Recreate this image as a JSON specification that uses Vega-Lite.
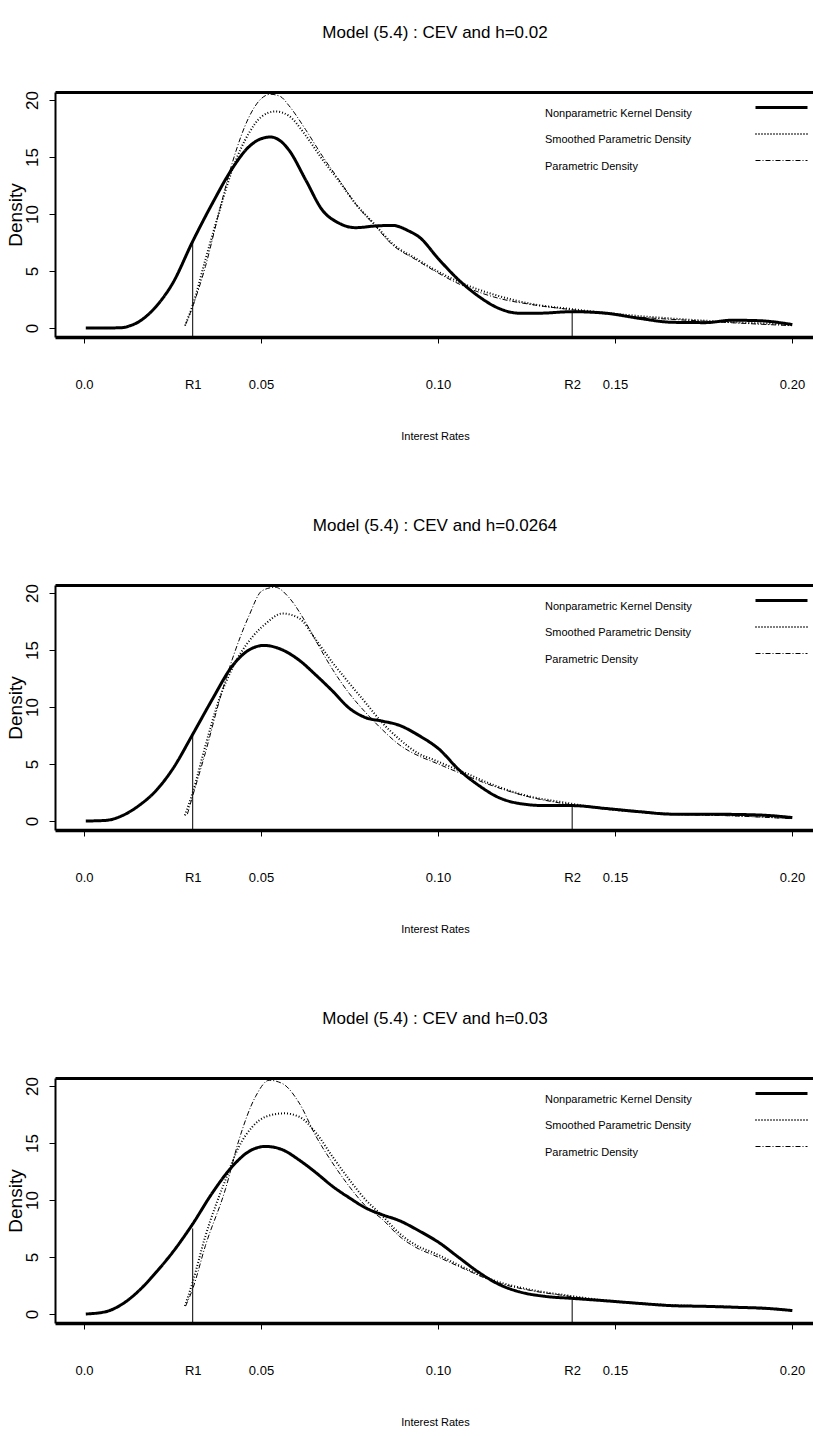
{
  "$schema": "https://vega.github.io/schema/vega-lite/v6.json",
  "background": "white",
  "padding": {"left": 6, "top": 23, "right": 0, "bottom": 0},
  "spacing": 75,
  "config": {
    "view": {"stroke": null},
    "font": "Liberation Sans",
    "axis": {"grid": false, "domainColor": "black", "tickColor": "black", "labelColor": "black", "titleColor": "black", "titleFontWeight": "normal"},
    "legend": {"title": null, "orient": "none", "legendX": 718.5, "legendY": 7.5, "padding": 0, "symbolType": "M-4,0H4", "symbolSize": 169, "symbolStrokeColor": "black", "rowPadding": 8, "labelOffset": -244.5, "labelAlign": "left", "labelBaseline": "top", "labelFont": "Liberation Sans", "labelFontSize": 11, "labelColor": "black", "labelLimit": 400}
  },
  "datasets": {
    "curves": [
      {"p":1,"s":"Nonparametric Kernel Density","x":0.0005,"y":0},{"p":1,"s":"Nonparametric Kernel Density","x":0.006,"y":0},{"p":1,"s":"Nonparametric Kernel Density","x":0.0108,"y":0.03},{"p":1,"s":"Nonparametric Kernel Density","x":0.013,"y":0.2},{"p":1,"s":"Nonparametric Kernel Density","x":0.0155,"y":0.55},{"p":1,"s":"Nonparametric Kernel Density","x":0.0203,"y":1.87},{"p":1,"s":"Nonparametric Kernel Density","x":0.025,"y":3.9},{"p":1,"s":"Nonparametric Kernel Density","x":0.0307,"y":7.6},{"p":1,"s":"Nonparametric Kernel Density","x":0.0362,"y":10.9},{"p":1,"s":"Nonparametric Kernel Density","x":0.0419,"y":14.0},{"p":1,"s":"Nonparametric Kernel Density","x":0.0466,"y":15.9},{"p":1,"s":"Nonparametric Kernel Density","x":0.05,"y":16.6},{"p":1,"s":"Nonparametric Kernel Density","x":0.0527,"y":16.75},{"p":1,"s":"Nonparametric Kernel Density","x":0.0555,"y":16.4},{"p":1,"s":"Nonparametric Kernel Density","x":0.0579,"y":15.6},{"p":1,"s":"Nonparametric Kernel Density","x":0.0626,"y":13.0},{"p":1,"s":"Nonparametric Kernel Density","x":0.0673,"y":10.35},{"p":1,"s":"Nonparametric Kernel Density","x":0.072,"y":9.2},{"p":1,"s":"Nonparametric Kernel Density","x":0.0767,"y":8.8},{"p":1,"s":"Nonparametric Kernel Density","x":0.0824,"y":8.95},{"p":1,"s":"Nonparametric Kernel Density","x":0.0871,"y":9.0},{"p":1,"s":"Nonparametric Kernel Density","x":0.0918,"y":8.5},{"p":1,"s":"Nonparametric Kernel Density","x":0.0946,"y":8.0},{"p":1,"s":"Nonparametric Kernel Density","x":0.1003,"y":6.0},{"p":1,"s":"Nonparametric Kernel Density","x":0.1059,"y":4.2},{"p":1,"s":"Nonparametric Kernel Density","x":0.1116,"y":2.75},{"p":1,"s":"Nonparametric Kernel Density","x":0.1172,"y":1.72},{"p":1,"s":"Nonparametric Kernel Density","x":0.1229,"y":1.3},{"p":1,"s":"Nonparametric Kernel Density","x":0.1285,"y":1.3},{"p":1,"s":"Nonparametric Kernel Density","x":0.1379,"y":1.43},{"p":1,"s":"Nonparametric Kernel Density","x":0.1473,"y":1.3},{"p":1,"s":"Nonparametric Kernel Density","x":0.1568,"y":0.85},{"p":1,"s":"Nonparametric Kernel Density","x":0.1662,"y":0.5},{"p":1,"s":"Nonparametric Kernel Density","x":0.1756,"y":0.47},{"p":1,"s":"Nonparametric Kernel Density","x":0.1831,"y":0.68},{"p":1,"s":"Nonparametric Kernel Density","x":0.1907,"y":0.64},{"p":1,"s":"Nonparametric Kernel Density","x":0.2001,"y":0.3},
      {"p":1,"s":"Smoothed Parametric Density","x":0.0285,"y":0.2},{"p":1,"s":"Smoothed Parametric Density","x":0.0307,"y":2.0},{"p":1,"s":"Smoothed Parametric Density","x":0.0343,"y":6.0},{"p":1,"s":"Smoothed Parametric Density","x":0.0381,"y":10.1},{"p":1,"s":"Smoothed Parametric Density","x":0.0419,"y":13.9},{"p":1,"s":"Smoothed Parametric Density","x":0.0466,"y":17.1},{"p":1,"s":"Smoothed Parametric Density","x":0.05,"y":18.5},{"p":1,"s":"Smoothed Parametric Density","x":0.0541,"y":19.0},{"p":1,"s":"Smoothed Parametric Density","x":0.0579,"y":18.6},{"p":1,"s":"Smoothed Parametric Density","x":0.0626,"y":16.9},{"p":1,"s":"Smoothed Parametric Density","x":0.0673,"y":14.8},{"p":1,"s":"Smoothed Parametric Density","x":0.072,"y":12.9},{"p":1,"s":"Smoothed Parametric Density","x":0.0767,"y":10.9},{"p":1,"s":"Smoothed Parametric Density","x":0.0824,"y":9.0},{"p":1,"s":"Smoothed Parametric Density","x":0.0871,"y":7.4},{"p":1,"s":"Smoothed Parametric Density","x":0.0937,"y":6.1},{"p":1,"s":"Smoothed Parametric Density","x":0.0985,"y":5.2},{"p":1,"s":"Smoothed Parametric Density","x":0.1078,"y":3.8},{"p":1,"s":"Smoothed Parametric Density","x":0.1172,"y":2.8},{"p":1,"s":"Smoothed Parametric Density","x":0.1266,"y":2.1},{"p":1,"s":"Smoothed Parametric Density","x":0.1379,"y":1.65},{"p":1,"s":"Smoothed Parametric Density","x":0.155,"y":1.1},{"p":1,"s":"Smoothed Parametric Density","x":0.175,"y":0.65},{"p":1,"s":"Smoothed Parametric Density","x":0.2,"y":0.3},
      {"p":1,"s":"Parametric Density","x":0.0287,"y":0.3},{"p":1,"s":"Parametric Density","x":0.0307,"y":1.9},{"p":1,"s":"Parametric Density","x":0.0343,"y":5.4},{"p":1,"s":"Parametric Density","x":0.0381,"y":10.1},{"p":1,"s":"Parametric Density","x":0.0419,"y":14.5},{"p":1,"s":"Parametric Density","x":0.0466,"y":18.5},{"p":1,"s":"Parametric Density","x":0.05,"y":20.1},{"p":1,"s":"Parametric Density","x":0.0527,"y":20.5},{"p":1,"s":"Parametric Density","x":0.0555,"y":20.3},{"p":1,"s":"Parametric Density","x":0.0579,"y":19.5},{"p":1,"s":"Parametric Density","x":0.0626,"y":17.4},{"p":1,"s":"Parametric Density","x":0.0673,"y":15.1},{"p":1,"s":"Parametric Density","x":0.072,"y":13.0},{"p":1,"s":"Parametric Density","x":0.0767,"y":10.9},{"p":1,"s":"Parametric Density","x":0.0824,"y":8.9},{"p":1,"s":"Parametric Density","x":0.0871,"y":7.3},{"p":1,"s":"Parametric Density","x":0.0937,"y":6.0},{"p":1,"s":"Parametric Density","x":0.0985,"y":5.1},{"p":1,"s":"Parametric Density","x":0.1031,"y":4.3},{"p":1,"s":"Parametric Density","x":0.1078,"y":3.6},{"p":1,"s":"Parametric Density","x":0.1172,"y":2.6},{"p":1,"s":"Parametric Density","x":0.1266,"y":2.05},{"p":1,"s":"Parametric Density","x":0.1379,"y":1.6},{"p":1,"s":"Parametric Density","x":0.155,"y":1.0},{"p":1,"s":"Parametric Density","x":0.175,"y":0.6},{"p":1,"s":"Parametric Density","x":0.2,"y":0.2},
      {"p":2,"s":"Nonparametric Kernel Density","x":0.0005,"y":0},{"p":2,"s":"Nonparametric Kernel Density","x":0.0061,"y":0.05},{"p":2,"s":"Nonparametric Kernel Density","x":0.0108,"y":0.47},{"p":2,"s":"Nonparametric Kernel Density","x":0.0155,"y":1.35},{"p":2,"s":"Nonparametric Kernel Density","x":0.0203,"y":2.65},{"p":2,"s":"Nonparametric Kernel Density","x":0.025,"y":4.54},{"p":2,"s":"Nonparametric Kernel Density","x":0.0307,"y":7.6},{"p":2,"s":"Nonparametric Kernel Density","x":0.0362,"y":10.65},{"p":2,"s":"Nonparametric Kernel Density","x":0.0419,"y":13.6},{"p":2,"s":"Nonparametric Kernel Density","x":0.0466,"y":15.0},{"p":2,"s":"Nonparametric Kernel Density","x":0.0509,"y":15.4},{"p":2,"s":"Nonparametric Kernel Density","x":0.0561,"y":15.0},{"p":2,"s":"Nonparametric Kernel Density","x":0.0608,"y":14.1},{"p":2,"s":"Nonparametric Kernel Density","x":0.0655,"y":12.8},{"p":2,"s":"Nonparametric Kernel Density","x":0.0702,"y":11.4},{"p":2,"s":"Nonparametric Kernel Density","x":0.0749,"y":9.9},{"p":2,"s":"Nonparametric Kernel Density","x":0.0796,"y":9.06},{"p":2,"s":"Nonparametric Kernel Density","x":0.0843,"y":8.76},{"p":2,"s":"Nonparametric Kernel Density","x":0.089,"y":8.4},{"p":2,"s":"Nonparametric Kernel Density","x":0.0946,"y":7.5},{"p":2,"s":"Nonparametric Kernel Density","x":0.1003,"y":6.3},{"p":2,"s":"Nonparametric Kernel Density","x":0.1059,"y":4.5},{"p":2,"s":"Nonparametric Kernel Density","x":0.1116,"y":3.1},{"p":2,"s":"Nonparametric Kernel Density","x":0.1172,"y":2.05},{"p":2,"s":"Nonparametric Kernel Density","x":0.1229,"y":1.54},{"p":2,"s":"Nonparametric Kernel Density","x":0.1304,"y":1.35},{"p":2,"s":"Nonparametric Kernel Density","x":0.1379,"y":1.35},{"p":2,"s":"Nonparametric Kernel Density","x":0.1473,"y":1.1},{"p":2,"s":"Nonparametric Kernel Density","x":0.1568,"y":0.82},{"p":2,"s":"Nonparametric Kernel Density","x":0.1662,"y":0.6},{"p":2,"s":"Nonparametric Kernel Density","x":0.1756,"y":0.6},{"p":2,"s":"Nonparametric Kernel Density","x":0.1831,"y":0.58},{"p":2,"s":"Nonparametric Kernel Density","x":0.1925,"y":0.5},{"p":2,"s":"Nonparametric Kernel Density","x":0.2001,"y":0.3},
      {"p":2,"s":"Smoothed Parametric Density","x":0.0285,"y":0.5},{"p":2,"s":"Smoothed Parametric Density","x":0.0307,"y":2.5},{"p":2,"s":"Smoothed Parametric Density","x":0.0343,"y":6.6},{"p":2,"s":"Smoothed Parametric Density","x":0.0381,"y":10.6},{"p":2,"s":"Smoothed Parametric Density","x":0.0419,"y":13.4},{"p":2,"s":"Smoothed Parametric Density","x":0.0477,"y":16.2},{"p":2,"s":"Smoothed Parametric Density","x":0.0513,"y":17.3},{"p":2,"s":"Smoothed Parametric Density","x":0.056,"y":18.2},{"p":2,"s":"Smoothed Parametric Density","x":0.0607,"y":17.8},{"p":2,"s":"Smoothed Parametric Density","x":0.0655,"y":15.9},{"p":2,"s":"Smoothed Parametric Density","x":0.0702,"y":13.9},{"p":2,"s":"Smoothed Parametric Density","x":0.0749,"y":12.1},{"p":2,"s":"Smoothed Parametric Density","x":0.0796,"y":10.35},{"p":2,"s":"Smoothed Parametric Density","x":0.0843,"y":8.6},{"p":2,"s":"Smoothed Parametric Density","x":0.089,"y":7.2},{"p":2,"s":"Smoothed Parametric Density","x":0.0946,"y":5.9},{"p":2,"s":"Smoothed Parametric Density","x":0.0985,"y":5.4},{"p":2,"s":"Smoothed Parametric Density","x":0.1078,"y":4.2},{"p":2,"s":"Smoothed Parametric Density","x":0.1153,"y":3.2},{"p":2,"s":"Smoothed Parametric Density","x":0.1266,"y":2.1},{"p":2,"s":"Smoothed Parametric Density","x":0.1341,"y":1.7},{"p":2,"s":"Smoothed Parametric Density","x":0.1454,"y":1.15},{"p":2,"s":"Smoothed Parametric Density","x":0.1643,"y":0.65},{"p":2,"s":"Smoothed Parametric Density","x":0.1831,"y":0.5},{"p":2,"s":"Smoothed Parametric Density","x":0.2,"y":0.25},
      {"p":2,"s":"Parametric Density","x":0.0292,"y":0.6},{"p":2,"s":"Parametric Density","x":0.0307,"y":2.2},{"p":2,"s":"Parametric Density","x":0.0343,"y":6.0},{"p":2,"s":"Parametric Density","x":0.0381,"y":10.4},{"p":2,"s":"Parametric Density","x":0.0419,"y":14.2},{"p":2,"s":"Parametric Density","x":0.0466,"y":18.0},{"p":2,"s":"Parametric Density","x":0.0503,"y":20.2},{"p":2,"s":"Parametric Density","x":0.054,"y":20.5},{"p":2,"s":"Parametric Density","x":0.0579,"y":19.6},{"p":2,"s":"Parametric Density","x":0.0617,"y":17.9},{"p":2,"s":"Parametric Density","x":0.0655,"y":15.8},{"p":2,"s":"Parametric Density","x":0.0702,"y":13.3},{"p":2,"s":"Parametric Density","x":0.0749,"y":11.2},{"p":2,"s":"Parametric Density","x":0.0796,"y":9.5},{"p":2,"s":"Parametric Density","x":0.0843,"y":8.0},{"p":2,"s":"Parametric Density","x":0.089,"y":6.7},{"p":2,"s":"Parametric Density","x":0.0946,"y":5.7},{"p":2,"s":"Parametric Density","x":0.0985,"y":5.2},{"p":2,"s":"Parametric Density","x":0.1078,"y":4.0},{"p":2,"s":"Parametric Density","x":0.1153,"y":3.1},{"p":2,"s":"Parametric Density","x":0.1266,"y":2.05},{"p":2,"s":"Parametric Density","x":0.1341,"y":1.6},{"p":2,"s":"Parametric Density","x":0.1454,"y":1.1},{"p":2,"s":"Parametric Density","x":0.1643,"y":0.6},{"p":2,"s":"Parametric Density","x":0.1831,"y":0.45},{"p":2,"s":"Parametric Density","x":0.2,"y":0.2},
      {"p":3,"s":"Nonparametric Kernel Density","x":0.0005,"y":0},{"p":3,"s":"Nonparametric Kernel Density","x":0.0061,"y":0.2},{"p":3,"s":"Nonparametric Kernel Density","x":0.0108,"y":0.87},{"p":3,"s":"Nonparametric Kernel Density","x":0.0155,"y":2.04},{"p":3,"s":"Nonparametric Kernel Density","x":0.0203,"y":3.64},{"p":3,"s":"Nonparametric Kernel Density","x":0.025,"y":5.4},{"p":3,"s":"Nonparametric Kernel Density","x":0.0307,"y":7.9},{"p":3,"s":"Nonparametric Kernel Density","x":0.0362,"y":10.6},{"p":3,"s":"Nonparametric Kernel Density","x":0.0419,"y":12.95},{"p":3,"s":"Nonparametric Kernel Density","x":0.0466,"y":14.26},{"p":3,"s":"Nonparametric Kernel Density","x":0.0513,"y":14.7},{"p":3,"s":"Nonparametric Kernel Density","x":0.0561,"y":14.4},{"p":3,"s":"Nonparametric Kernel Density","x":0.0608,"y":13.5},{"p":3,"s":"Nonparametric Kernel Density","x":0.0655,"y":12.4},{"p":3,"s":"Nonparametric Kernel Density","x":0.0702,"y":11.2},{"p":3,"s":"Nonparametric Kernel Density","x":0.0749,"y":10.2},{"p":3,"s":"Nonparametric Kernel Density","x":0.0796,"y":9.3},{"p":3,"s":"Nonparametric Kernel Density","x":0.0843,"y":8.7},{"p":3,"s":"Nonparametric Kernel Density","x":0.089,"y":8.2},{"p":3,"s":"Nonparametric Kernel Density","x":0.0946,"y":7.3},{"p":3,"s":"Nonparametric Kernel Density","x":0.1003,"y":6.26},{"p":3,"s":"Nonparametric Kernel Density","x":0.1059,"y":4.95},{"p":3,"s":"Nonparametric Kernel Density","x":0.1116,"y":3.64},{"p":3,"s":"Nonparametric Kernel Density","x":0.1172,"y":2.6},{"p":3,"s":"Nonparametric Kernel Density","x":0.1229,"y":1.95},{"p":3,"s":"Nonparametric Kernel Density","x":0.1304,"y":1.54},{"p":3,"s":"Nonparametric Kernel Density","x":0.1379,"y":1.37},{"p":3,"s":"Nonparametric Kernel Density","x":0.1473,"y":1.16},{"p":3,"s":"Nonparametric Kernel Density","x":0.1568,"y":0.93},{"p":3,"s":"Nonparametric Kernel Density","x":0.1662,"y":0.73},{"p":3,"s":"Nonparametric Kernel Density","x":0.1756,"y":0.67},{"p":3,"s":"Nonparametric Kernel Density","x":0.185,"y":0.58},{"p":3,"s":"Nonparametric Kernel Density","x":0.1925,"y":0.5},{"p":3,"s":"Nonparametric Kernel Density","x":0.2001,"y":0.3},
      {"p":3,"s":"Smoothed Parametric Density","x":0.0285,"y":0.7},{"p":3,"s":"Smoothed Parametric Density","x":0.0307,"y":2.8},{"p":3,"s":"Smoothed Parametric Density","x":0.0343,"y":6.84},{"p":3,"s":"Smoothed Parametric Density","x":0.04,"y":11.8},{"p":3,"s":"Smoothed Parametric Density","x":0.0438,"y":14.7},{"p":3,"s":"Smoothed Parametric Density","x":0.0475,"y":16.4},{"p":3,"s":"Smoothed Parametric Density","x":0.0513,"y":17.3},{"p":3,"s":"Smoothed Parametric Density","x":0.0565,"y":17.6},{"p":3,"s":"Smoothed Parametric Density","x":0.0608,"y":17.3},{"p":3,"s":"Smoothed Parametric Density","x":0.0655,"y":15.9},{"p":3,"s":"Smoothed Parametric Density","x":0.0702,"y":13.8},{"p":3,"s":"Smoothed Parametric Density","x":0.0749,"y":11.8},{"p":3,"s":"Smoothed Parametric Density","x":0.0796,"y":10.0},{"p":3,"s":"Smoothed Parametric Density","x":0.0843,"y":8.6},{"p":3,"s":"Smoothed Parametric Density","x":0.089,"y":7.1},{"p":3,"s":"Smoothed Parametric Density","x":0.0946,"y":5.9},{"p":3,"s":"Smoothed Parametric Density","x":0.0985,"y":5.4},{"p":3,"s":"Smoothed Parametric Density","x":0.1078,"y":4.0},{"p":3,"s":"Smoothed Parametric Density","x":0.1153,"y":3.0},{"p":3,"s":"Smoothed Parametric Density","x":0.1266,"y":2.1},{"p":3,"s":"Smoothed Parametric Density","x":0.136,"y":1.65},{"p":3,"s":"Smoothed Parametric Density","x":0.1454,"y":1.25},{"p":3,"s":"Smoothed Parametric Density","x":0.1643,"y":0.8},{"p":3,"s":"Smoothed Parametric Density","x":0.185,"y":0.6},{"p":3,"s":"Smoothed Parametric Density","x":0.2,"y":0.32},
      {"p":3,"s":"Parametric Density","x":0.0287,"y":0.7},{"p":3,"s":"Parametric Density","x":0.0307,"y":2.2},{"p":3,"s":"Parametric Density","x":0.0343,"y":6.0},{"p":3,"s":"Parametric Density","x":0.04,"y":11.0},{"p":3,"s":"Parametric Density","x":0.0438,"y":15.3},{"p":3,"s":"Parametric Density","x":0.0485,"y":19.1},{"p":3,"s":"Parametric Density","x":0.0523,"y":20.5},{"p":3,"s":"Parametric Density","x":0.0561,"y":20.2},{"p":3,"s":"Parametric Density","x":0.0608,"y":18.5},{"p":3,"s":"Parametric Density","x":0.0655,"y":15.6},{"p":3,"s":"Parametric Density","x":0.0702,"y":13.25},{"p":3,"s":"Parametric Density","x":0.0749,"y":11.2},{"p":3,"s":"Parametric Density","x":0.0796,"y":9.46},{"p":3,"s":"Parametric Density","x":0.0843,"y":8.3},{"p":3,"s":"Parametric Density","x":0.089,"y":6.84},{"p":3,"s":"Parametric Density","x":0.0946,"y":5.7},{"p":3,"s":"Parametric Density","x":0.0985,"y":5.2},{"p":3,"s":"Parametric Density","x":0.1078,"y":3.9},{"p":3,"s":"Parametric Density","x":0.1153,"y":2.9},{"p":3,"s":"Parametric Density","x":0.1266,"y":2.04},{"p":3,"s":"Parametric Density","x":0.136,"y":1.6},{"p":3,"s":"Parametric Density","x":0.1454,"y":1.2},{"p":3,"s":"Parametric Density","x":0.1643,"y":0.77},{"p":3,"s":"Parametric Density","x":0.185,"y":0.55},{"p":3,"s":"Parametric Density","x":0.2,"y":0.3}
    ],
    "refs": [
      {"p":1,"name":"R1","x":0.0307,"y":7.6},{"p":1,"name":"R2","x":0.1379,"y":1.4},
      {"p":2,"name":"R1","x":0.0307,"y":7.6},{"p":2,"name":"R2","x":0.1379,"y":1.35},
      {"p":3,"name":"R1","x":0.0307,"y":7.5},{"p":3,"name":"R2","x":0.1379,"y":1.37}
    ]
  },
  "resolve": {
    "scale": {"x": "independent", "y": "independent", "strokeDash": "independent", "strokeWidth": "independent"},
    "legend": {"strokeDash": "independent", "strokeWidth": "independent"}
  },
  "vconcat": [
    {
      "width": 760, "height": 245,
      "title": {"text": "Model (5.4) : CEV and h=0.02", "font": "Liberation Sans", "fontSize": 17, "fontWeight": "normal", "color": "black", "baseline": "alphabetic", "offset": 36, "anchor": "middle"},
      "resolve": {"axis": {"x": "independent"}},
      "layer": [
        {
          "data": {"name": "curves"},
          "transform": [{"filter": "datum.p == 1"}],
          "mark": {"type": "line", "interpolate": "monotone", "color": "black"},
          "encoding": {
            "x": {"field": "x", "type": "quantitative", "scale": {"domain": [-0.0082, 0.2065], "nice": false, "zero": false},
              "axis": {"orient": "bottom", "values": [0, 0.0307, 0.05, 0.1, 0.1379, 0.15, 0.2], "labelExpr": "datum.value == 0 ? '0.0' : datum.value == 0.0307 ? 'R1' : datum.value == 0.05 ? '0.05' : datum.value == 0.1 ? '0.10' : datum.value == 0.1379 ? 'R2' : datum.value == 0.15 ? '0.15' : '0.20'", "labelFont": "Liberation Sans", "labelFontSize": 13, "labelPadding": 35, "labelFlush": false, "labelOverlap": false, "tickSize": 6, "tickWidth": 1, "tickOpacity": {"condition": {"test": "datum.value == 0.0307 || datum.value == 0.1379", "value": 0}, "value": 1}, "domainWidth": 3.5, "title": "Interest Rates", "titleFont": "Liberation Sans", "titleFontSize": 11, "titlePadding": 39}},
            "y": {"field": "y", "type": "quantitative", "scale": {"domain": [-0.79, 20.7], "nice": false, "zero": false},
              "axis": {"values": [0, 5, 10, 15, 20], "labelAngle": -90, "labelAlign": "center", "labelBaseline": "bottom", "labelFont": "Liberation Sans", "labelFontSize": 17, "labelPadding": 8, "tickSize": 6, "tickWidth": 1, "domainWidth": 2, "title": "Density", "titleFont": "Liberation Sans", "titleFontSize": 19, "titlePadding": -2}},
            "strokeDash": {"field": "s", "type": "nominal", "scale": {"domain": ["Nonparametric Kernel Density", "Smoothed Parametric Density", "Parametric Density"], "range": [[1, 0], [1, 2], [5, 2, 1, 2]]}},
            "strokeWidth": {"field": "s", "type": "nominal", "scale": {"domain": ["Nonparametric Kernel Density", "Smoothed Parametric Density", "Parametric Density"], "range": [3, 1, 1]}}
          }
        },
        {
          "data": {"name": "refs"},
          "transform": [{"filter": "datum.p == 1"}],
          "mark": {"type": "rule", "color": "black", "strokeWidth": 1},
          "encoding": {
            "x": {"field": "x", "type": "quantitative", "axis": {"orient": "top", "labels": false, "ticks": false, "domainWidth": 3, "title": null}},
            "y": {"field": "y", "type": "quantitative"},
            "y2": {"value": "height"}
          }
        }
      ]
    },
    {
      "width": 760, "height": 245,
      "title": {"text": "Model (5.4) : CEV and h=0.0264", "font": "Liberation Sans", "fontSize": 17, "fontWeight": "normal", "color": "black", "baseline": "alphabetic", "offset": 36, "anchor": "middle"},
      "resolve": {"axis": {"x": "independent"}},
      "layer": [
        {
          "data": {"name": "curves"},
          "transform": [{"filter": "datum.p == 2"}],
          "mark": {"type": "line", "interpolate": "monotone", "color": "black"},
          "encoding": {
            "x": {"field": "x", "type": "quantitative", "scale": {"domain": [-0.0082, 0.2065], "nice": false, "zero": false},
              "axis": {"orient": "bottom", "values": [0, 0.0307, 0.05, 0.1, 0.1379, 0.15, 0.2], "labelExpr": "datum.value == 0 ? '0.0' : datum.value == 0.0307 ? 'R1' : datum.value == 0.05 ? '0.05' : datum.value == 0.1 ? '0.10' : datum.value == 0.1379 ? 'R2' : datum.value == 0.15 ? '0.15' : '0.20'", "labelFont": "Liberation Sans", "labelFontSize": 13, "labelPadding": 35, "labelFlush": false, "labelOverlap": false, "tickSize": 6, "tickWidth": 1, "tickOpacity": {"condition": {"test": "datum.value == 0.0307 || datum.value == 0.1379", "value": 0}, "value": 1}, "domainWidth": 3.5, "title": "Interest Rates", "titleFont": "Liberation Sans", "titleFontSize": 11, "titlePadding": 39}},
            "y": {"field": "y", "type": "quantitative", "scale": {"domain": [-0.79, 20.7], "nice": false, "zero": false},
              "axis": {"values": [0, 5, 10, 15, 20], "labelAngle": -90, "labelAlign": "center", "labelBaseline": "bottom", "labelFont": "Liberation Sans", "labelFontSize": 17, "labelPadding": 8, "tickSize": 6, "tickWidth": 1, "domainWidth": 2, "title": "Density", "titleFont": "Liberation Sans", "titleFontSize": 19, "titlePadding": -2}},
            "strokeDash": {"field": "s", "type": "nominal", "scale": {"domain": ["Nonparametric Kernel Density", "Smoothed Parametric Density", "Parametric Density"], "range": [[1, 0], [1, 2], [5, 2, 1, 2]]}},
            "strokeWidth": {"field": "s", "type": "nominal", "scale": {"domain": ["Nonparametric Kernel Density", "Smoothed Parametric Density", "Parametric Density"], "range": [3, 1, 1]}}
          }
        },
        {
          "data": {"name": "refs"},
          "transform": [{"filter": "datum.p == 2"}],
          "mark": {"type": "rule", "color": "black", "strokeWidth": 1},
          "encoding": {
            "x": {"field": "x", "type": "quantitative", "axis": {"orient": "top", "labels": false, "ticks": false, "domainWidth": 3, "title": null}},
            "y": {"field": "y", "type": "quantitative"},
            "y2": {"value": "height"}
          }
        }
      ]
    },
    {
      "width": 760, "height": 245,
      "title": {"text": "Model (5.4) : CEV and h=0.03", "font": "Liberation Sans", "fontSize": 17, "fontWeight": "normal", "color": "black", "baseline": "alphabetic", "offset": 36, "anchor": "middle"},
      "resolve": {"axis": {"x": "independent"}},
      "layer": [
        {
          "data": {"name": "curves"},
          "transform": [{"filter": "datum.p == 3"}],
          "mark": {"type": "line", "interpolate": "monotone", "color": "black"},
          "encoding": {
            "x": {"field": "x", "type": "quantitative", "scale": {"domain": [-0.0082, 0.2065], "nice": false, "zero": false},
              "axis": {"orient": "bottom", "values": [0, 0.0307, 0.05, 0.1, 0.1379, 0.15, 0.2], "labelExpr": "datum.value == 0 ? '0.0' : datum.value == 0.0307 ? 'R1' : datum.value == 0.05 ? '0.05' : datum.value == 0.1 ? '0.10' : datum.value == 0.1379 ? 'R2' : datum.value == 0.15 ? '0.15' : '0.20'", "labelFont": "Liberation Sans", "labelFontSize": 13, "labelPadding": 35, "labelFlush": false, "labelOverlap": false, "tickSize": 6, "tickWidth": 1, "tickOpacity": {"condition": {"test": "datum.value == 0.0307 || datum.value == 0.1379", "value": 0}, "value": 1}, "domainWidth": 3.5, "title": "Interest Rates", "titleFont": "Liberation Sans", "titleFontSize": 11, "titlePadding": 39}},
            "y": {"field": "y", "type": "quantitative", "scale": {"domain": [-0.79, 20.7], "nice": false, "zero": false},
              "axis": {"values": [0, 5, 10, 15, 20], "labelAngle": -90, "labelAlign": "center", "labelBaseline": "bottom", "labelFont": "Liberation Sans", "labelFontSize": 17, "labelPadding": 8, "tickSize": 6, "tickWidth": 1, "domainWidth": 2, "title": "Density", "titleFont": "Liberation Sans", "titleFontSize": 19, "titlePadding": -2}},
            "strokeDash": {"field": "s", "type": "nominal", "scale": {"domain": ["Nonparametric Kernel Density", "Smoothed Parametric Density", "Parametric Density"], "range": [[1, 0], [1, 2], [5, 2, 1, 2]]}},
            "strokeWidth": {"field": "s", "type": "nominal", "scale": {"domain": ["Nonparametric Kernel Density", "Smoothed Parametric Density", "Parametric Density"], "range": [3, 1, 1]}}
          }
        },
        {
          "data": {"name": "refs"},
          "transform": [{"filter": "datum.p == 3"}],
          "mark": {"type": "rule", "color": "black", "strokeWidth": 1},
          "encoding": {
            "x": {"field": "x", "type": "quantitative", "axis": {"orient": "top", "labels": false, "ticks": false, "domainWidth": 3, "title": null}},
            "y": {"field": "y", "type": "quantitative"},
            "y2": {"value": "height"}
          }
        }
      ]
    }
  ]
}
